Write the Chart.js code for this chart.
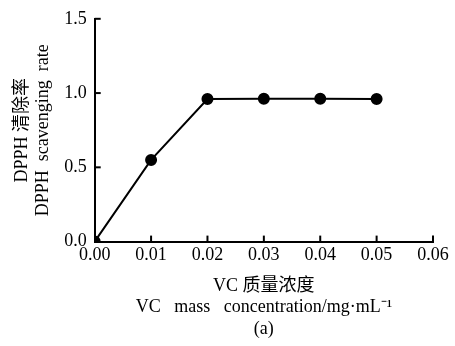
<!DOCTYPE html>
<html>
<head>
<meta charset="utf-8">
<script src="https://cdn.jsdelivr.net/npm/chart.js"></script>
<style>
  html, body { margin: 0; padding: 0; background: #fff; }
  #wrap { width: 455px; height: 346px; }
</style>
</head>
<body>
<div id="wrap"><canvas id="chart" width="455" height="346"></canvas></div>
<script>
// VC concentration (mg/mL) vs DPPH scavenging rate
const concentrations = [0.00, 0.01, 0.02, 0.03, 0.04, 0.05];
const scavengingRate = [0.00, 0.55, 0.96, 0.962, 0.962, 0.96];
const xTicks = [0, 0.01, 0.02, 0.03, 0.04, 0.05, 0.06];
const yTicks = [0, 0.5, 1.0, 1.5];

const FONT = "'Liberation Serif', 'Times New Roman', 'Noto Sans CJK SC', serif";

// ticks on both axes point into the plot
const innerTicks = {
  id: "innerTicks",
  afterDraw(chart) {
    const ctx = chart.ctx;
    const xs = chart.scales.x;
    const ys = chart.scales.y;
    ctx.save();
    ctx.strokeStyle = "#000";
    ctx.lineWidth = 2;
    xTicks.slice(1).forEach((v) => {
      const px = xs.getPixelForValue(v);
      ctx.beginPath();
      ctx.moveTo(px, xs.top);
      ctx.lineTo(px, xs.top - 6);
      ctx.stroke();
    });
    yTicks.slice(1).forEach((v) => {
      const py = ys.getPixelForValue(v);
      ctx.beginPath();
      ctx.moveTo(ys.right, py);
      ctx.lineTo(ys.right + 6, py);
      ctx.stroke();
    });
    ctx.restore();
  },
};

new Chart(document.getElementById("chart"), {
  type: "line",
  data: {
    datasets: [
      {
        data: concentrations.map((c, i) => ({ x: c, y: scavengingRate[i] })),
        borderColor: "#000",
        backgroundColor: "#000",
        borderWidth: 2,
        pointRadius: 5,
        pointHoverRadius: 5,
        fill: false,
        tension: 0,
      },
    ],
  },
  options: {
    responsive: false,
    animation: false,
    layout: { padding: { top: 5, right: 22, left: 11, bottom: 6 } },
    plugins: { legend: { display: false }, tooltip: { enabled: false } },
    scales: {
      x: {
        type: "linear",
        min: 0,
        max: 0.06,
        afterBuildTicks: (s) => { s.ticks = xTicks.map((v) => ({ value: v })); },
        border: { color: "#000", width: 2 },
        grid: { display: true, drawOnChartArea: false, drawTicks: false },
        ticks: {
          color: "#000",
          padding: 3,
          font: { family: FONT, size: 18 },
          callback: (v) => Number(v).toFixed(2),
          maxRotation: 0,
        },
        title: {
          display: true,
          text: ["VC 质量浓度", "VC   mass   concentration/mg·mL⁻¹", "(a)"],
          color: "#000",
          font: { family: FONT, size: 18, lineHeight: 1.2 },
          padding: { top: 6, bottom: 0 },
        },
      },
      y: {
        type: "linear",
        min: 0,
        max: 1.5,
        afterBuildTicks: (s) => { s.ticks = yTicks.map((v) => ({ value: v })); },
        border: { color: "#000", width: 2 },
        grid: { display: true, drawOnChartArea: false, drawTicks: false },
        ticks: {
          color: "#000",
          padding: 8,
          font: { family: FONT, size: 18 },
          callback: (v) => Number(v).toFixed(1),
        },
        title: {
          display: true,
          text: ["DPPH 清除率", "DPPH  scavenging  rate"],
          color: "#000",
          font: { family: FONT, size: 18, lineHeight: 1.2 },
          padding: { top: 0, bottom: 2 },
        },
      },
    },
  },
  plugins: [innerTicks],
});
</script>
</body>
</html>
